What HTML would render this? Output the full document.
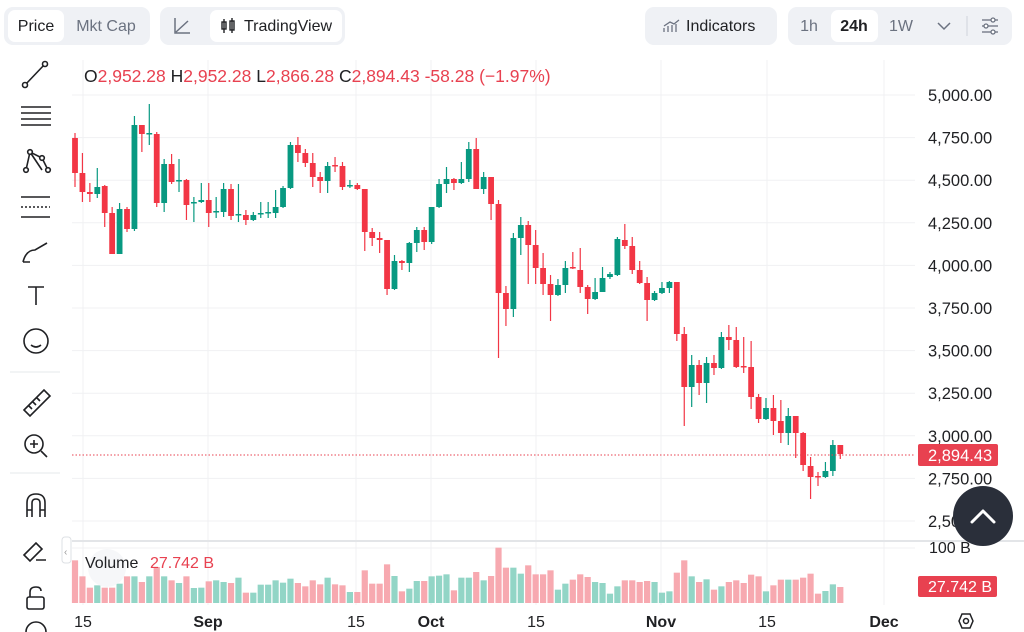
<!DOCTYPE html>
<html><head><meta charset="utf-8"><style>
html,body{margin:0;padding:0;background:#fff;width:1024px;height:632px;overflow:hidden;font-family:"Liberation Sans",sans-serif;}
svg{position:absolute;left:0;top:0}
</style></head><body>
<svg id="s" width="1024" height="632" viewBox="0 0 1024 632" xmlns="http://www.w3.org/2000/svg" font-family="Liberation Sans, sans-serif">
<!-- toolbar -->
<rect x="4" y="7" width="146" height="38" rx="9" fill="#eff1f5"/>
<rect x="8" y="10" width="56" height="32" rx="7" fill="#fff"/>
<text x="36" y="31" font-size="16" text-anchor="middle" fill="#202124">Price</text>
<text x="106" y="31" font-size="16" text-anchor="middle" fill="#6b7280">Mkt Cap</text>
<rect x="160" y="7" width="185" height="38" rx="9" fill="#eff1f5"/>
<rect x="210" y="10" width="132" height="32" rx="7" fill="#fff"/>
<path d="M175 18 V33 H190 M176 32 L188 21" stroke="#6b7280" stroke-width="1.5" fill="none"/>
<g stroke="#202124" stroke-width="1.4" fill="none"><rect x="222" y="22" width="4" height="7"/><line x1="224" y1="19" x2="224" y2="33"/><rect x="230" y="21" width="4" height="9"/><line x1="232" y1="18" x2="232" y2="33"/></g>
<text x="244" y="31" font-size="16" fill="#202124">TradingView</text>
<rect x="645" y="7" width="132" height="38" rx="9" fill="#eff1f5"/>
<path d="M664 32 V28 M668 32 V26 M672 32 V25 M676 32 V24 M664 26 L670 22 L674 24 L679 20" stroke="#6b7280" stroke-width="1.3" fill="none"/>
<text x="686" y="31" font-size="16" fill="#202124">Indicators</text>
<rect x="788" y="7" width="224" height="38" rx="9" fill="#eff1f5"/>
<rect x="831" y="10" width="47" height="32" rx="7" fill="#fff"/>
<text x="809" y="31" font-size="16" text-anchor="middle" fill="#6b7280">1h</text>
<text x="854" y="31" font-size="16" text-anchor="middle" fill="#202124" font-weight="bold">24h</text>
<text x="901" y="31" font-size="16" text-anchor="middle" fill="#6b7280">1W</text>
<path d="M938 23 L944 29 L950 23" stroke="#6b7280" stroke-width="1.5" fill="none"/>
<line x1="967" y1="16" x2="967" y2="36" stroke="#cfd3da"/>
<g stroke="#6b7280" stroke-width="1.3" fill="none"><line x1="982" y1="20" x2="998" y2="20"/><line x1="982" y1="26" x2="998" y2="26"/><line x1="982" y1="32" x2="998" y2="32"/><circle cx="993" cy="20" r="2" fill="#fff"/><circle cx="986" cy="26" r="2" fill="#fff"/><circle cx="993" cy="32" r="2" fill="#fff"/></g>
<!-- left sidebar icons -->
<g stroke="#202124" stroke-width="1.6" fill="none">
<line x1="25" y1="85" x2="45" y2="64"/><circle cx="25" cy="85" r="2.5" fill="#fff"/><circle cx="45" cy="64" r="2.5" fill="#fff"/>
<line x1="21" y1="107" x2="51" y2="107"/><line x1="21" y1="113" x2="51" y2="113"/><line x1="21" y1="119" x2="51" y2="119"/><line x1="21" y1="125" x2="51" y2="125"/>
<path d="M26 170 L30 152 L42 158 L48 170 M30 152 L42 170"/><circle cx="26" cy="170" r="2.3" fill="#fff"/><circle cx="30" cy="152" r="2.3" fill="#fff"/><circle cx="42" cy="158" r="2.3" fill="#fff"/><circle cx="48" cy="170" r="2.3" fill="#fff"/>
<line x1="21" y1="197" x2="50" y2="197"/><line x1="21" y1="207" x2="50" y2="207" stroke-dasharray="2 2"/><line x1="21" y1="217" x2="50" y2="217"/>
<path d="M23 262 Q26 250 35 250 L47 243 M30 262 L23 262"/>
<path d="M28 287 H44 M36 287 V305"/>
<circle cx="36" cy="341" r="12"/><path d="M31 345 Q36 349 41 345"/>
<path d="M24 410 L44 390 L50 396 L30 416 Z M29 406 l3 3 M33 402 l3 3 M37 398 l3 3"/>
<circle cx="34" cy="444" r="9"/><line x1="41" y1="451" x2="47" y2="457"/><path d="M30 444 H38 M34 440 V448"/>
<path d="M27 517 V503 Q27 494 36 494 Q45 494 45 503 V517 M27 510 H32 M40 510 H45 M32 517 V503 Q32 499 36 499 Q40 499 40 503 V517"/>
<path d="M24 555 L36 543 L42 549 L30 561 Z M36 560 H46"/>
<rect x="27" y="597" width="17" height="12" rx="2"/><path d="M30 597 V592 Q30 587 36 587 Q41 587 41 591"/>
</g>
<line x1="10" y1="372" x2="60" y2="372" stroke="#e6e8eb"/>
<line x1="10" y1="473" x2="60" y2="473" stroke="#e6e8eb"/>
<circle cx="36" cy="632" r="10" stroke="#202124" stroke-width="1.6" fill="none"/>
<g id="grid"></g>
<g id="vol"></g>
<g id="candles"></g>
<line x1="72" y1="455" x2="915" y2="455" stroke="#e84150" stroke-width="1" stroke-dasharray="1.5 2"/>
<line x1="72" y1="541" x2="1024" y2="541" stroke="#e3e5e8" stroke-width="2"/>
<text x="84" y="82" font-size="17.5" fill="#202124">O<tspan fill="#e84150">2,952.28</tspan> H<tspan fill="#e84150">2,952.28</tspan> L<tspan fill="#e84150">2,866.28</tspan> C<tspan fill="#e84150">2,894.43</tspan> <tspan fill="#e84150">-58.28 (−1.97%)</tspan></text>
<g id="ylab" font-size="16.5" fill="#202124"></g>
<rect x="918" y="444" width="80" height="22" rx="2" fill="#e84150"/>
<text x="928" y="461" font-size="16.5" fill="#fff">2,894.43</text>
<text x="929" y="553" font-size="16" fill="#202124">100 B</text>
<rect x="918" y="576" width="79" height="21" rx="2" fill="#e84150"/>
<text x="928" y="592" font-size="16" fill="#fff">27.742 B</text>
<rect x="62" y="537" width="9" height="26" rx="3" fill="#fff" stroke="#dde0e4"/>
<text x="64" y="555" font-size="10" fill="#999">‹</text>
<circle cx="107" cy="568" r="19" fill="#f4f5f7" opacity="0.8"/>
<text x="85" y="568" font-size="16" fill="#202124">Volume</text>
<text x="150" y="568" font-size="16" fill="#e84150">27.742 B</text>
<g font-size="16" fill="#202124">
<text x="83" y="627" text-anchor="middle">15</text>
<text x="208" y="627" text-anchor="middle" font-weight="bold">Sep</text>
<text x="356" y="627" text-anchor="middle">15</text>
<text x="431" y="627" text-anchor="middle" font-weight="bold">Oct</text>
<text x="536" y="627" text-anchor="middle">15</text>
<text x="661" y="627" text-anchor="middle" font-weight="bold">Nov</text>
<text x="767" y="627" text-anchor="middle">15</text>
<text x="884" y="627" text-anchor="middle" font-weight="bold">Dec</text>
</g>
<path d="M959 621 L962 614 H970 L973 621 L970 628 H962 Z" stroke="#202124" stroke-width="1.5" fill="none"/><circle cx="966" cy="621" r="2.5" stroke="#202124" stroke-width="1.5" fill="none"/>
<circle cx="983" cy="516" r="30" fill="#2a2f3a"/>
<path d="M972 522 L983 511 L994 522" stroke="#fff" stroke-width="3" fill="none" stroke-linecap="round" stroke-linejoin="round"/>
</svg>
<script>
var NS="http://www.w3.org/2000/svg";
function el(p,t,a){var e=document.createElementNS(NS,t);for(var k in a)e.setAttribute(k,a[k]);p.appendChild(e);return e;}
var g=document.getElementById('grid');
[83,208,356,431,536,661,767,884].forEach(function(x){el(g,'line',{x1:x,y1:60,x2:x,y2:605,stroke:'#f0f1f3'});});
var yl=document.getElementById('ylab');
var labs=['5,000.00','4,750.00','4,500.00','4,250.00','4,000.00','3,750.00','3,500.00','3,250.00','3,000.00','2,750.00','2,500.00'];
labs.forEach(function(l,i){var y=95+i*42.6;el(g,'line',{x1:72,y1:y,x2:915,y2:y,stroke:'#f0f1f3'});var t=el(yl,'text',{x:928,y:y+6});t.textContent=l;});
el(g,'line',{x1:72,y1:548,x2:915,y2:548,stroke:'#f0f1f3'});
var C=[[138,173,133,187],[173,192,153,202],[192,194,183,202],[194,187,168,198],[186,213,185,227],[213,254,207,254],[254,209,203,254],[209,229,207,232],[229,125,116,231],[125,134,125,152],[134,133,104,145],[134,203,132,207],[203,164,159,212],[164,182,154,184],[181,180,159,192],[180,205,179,220],[203,202,197,222],[202,200,183,203],[200,213,183,227],[212,211,197,218],[212,189,183,217],[189,216,184,220],[215,214,184,222],[215,220,210,225],[220,215,212,221],[214,213,202,218],[213,212,202,218],[213,207,190,218],[207,188,186,208],[188,145,142,189],[145,153,137,162],[153,163,149,167],[163,177,153,187],[177,181,172,193],[181,166,162,193],[165,166,157,172],[166,187,162,190],[186,185,180,188],[185,189,183,190],[189,232,189,251],[232,238,228,246],[238,240,232,253],[240,289,240,295],[289,261,255,290],[261,263,260,270],[263,243,242,272],[243,230,227,252],[230,242,227,250],[242,207,207,244],[207,184,179,208],[184,179,167,193],[179,183,178,190],[183,179,162,184],[179,149,142,182],[149,189,138,189],[189,177,172,194],[177,204,177,220],[204,293,200,358],[293,309,286,326],[309,238,233,317],[238,225,217,255],[225,245,221,284],[245,268,230,284],[268,284,253,295],[284,295,275,321],[295,285,279,296],[285,268,261,293],[267,268,252,269],[270,287,248,293],[287,299,285,314],[299,292,278,300],[292,278,267,292],[277,274,272,279],[275,239,237,276],[240,246,224,249],[246,270,237,274],[270,283,261,284],[283,300,277,321],[300,293,291,301],[293,288,282,294],[288,282,281,293],[282,334,282,341],[334,387,327,426],[387,365,355,407],[365,383,360,395],[383,363,357,403],[363,368,355,375],[368,337,332,369],[337,340,325,350],[340,367,327,368],[366,367,337,373],[367,397,341,409],[397,419,394,423],[419,408,398,420],[408,421,395,435],[421,433,400,443],[433,416,408,445],[416,433,416,458],[433,465,432,471],[466,477,457,499],[476,477,472,486],[477,471,462,478],[471,445,440,476],[445,454,445,459]];
var V=[90,138,172,165,172,172,160,138,138,155,138,110,138,150,158,138,173,172,153,150,155,158,142,187,187,163,163,150,157,145,158,168,150,162,142,162,165,185,185,120,160,160,102,137,183,175,152,152,138,136,132,180,142,142,125,150,137,52,112,112,130,105,132,132,120,178,160,148,132,140,155,158,190,168,150,150,155,152,155,187,183,127,90,138,155,147,178,168,155,150,158,133,138,183,165,148,148,148,142,130,190,182,162,170];
var cg=document.getElementById('candles'),vg=document.getElementById('vol');
C.forEach(function(c,i){var x=75+i*7.43;var up=c[1]<c[0];var col=up?'#089981':'#f23645';
 el(cg,'line',{x1:x,y1:c[2],x2:x,y2:c[3],stroke:col,'stroke-width':1.2});
 var t=Math.min(c[0],c[1]),h=Math.max(1.5,Math.abs(c[1]-c[0]));
 el(cg,'rect',{x:x-2.9,y:t,width:5.8,height:h,fill:col});
 var vh=(218-V[i])/3;
 el(vg,'rect',{x:x-3.1,y:603-vh,width:6.2,height:vh,fill:up?'#92d5c6':'#f7a9b0'});
});
</script>
</body></html>
